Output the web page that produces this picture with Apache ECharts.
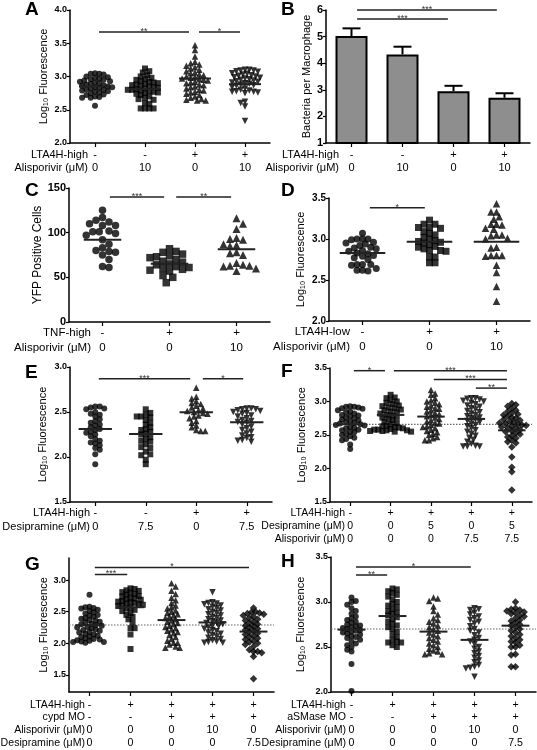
<!DOCTYPE html>
<html><head><meta charset="utf-8">
<script src="https://cdn.jsdelivr.net/npm/echarts@6/dist/echarts.min.js"></script>
<style>html,body{margin:0;padding:0;background:#fff}#c{width:537px;height:750px}</style>
</head><body><div id="c"></div>
<script>
// ---------------- DATA ----------------
// Panel A
const A_lta4h = ['-','-','+','+'];
const A_alis = ['0','10','0','10'];
const A1 = [3.05,3.04,3.04,3.03,3.00,2.99,2.98,2.97,2.96,2.95,2.94,2.93,2.92,2.91,2.90,2.89,2.88,2.87,2.86,2.85,2.84,2.84,2.83,2.82,2.81,2.80,2.79,2.78,2.77,2.76,2.75,2.73,2.72,2.70,2.69,2.68,2.68,2.56];
const A2 = [3.12,3.08,3.06,3.02,3.00,2.98,2.96,2.95,2.93,2.92,2.91,2.90,2.89,2.88,2.87,2.86,2.85,2.84,2.83,2.82,2.81,2.80,2.80,2.79,2.78,2.77,2.76,2.75,2.74,2.72,2.70,2.68,2.66,2.65,2.60,2.59,2.52,2.52,2.52,2.52];
const A3 = [3.47,3.40,3.30,3.22,3.20,3.18,3.16,3.14,3.12,3.10,3.08,3.06,3.05,3.03,3.02,3.00,2.99,2.98,2.97,2.96,2.95,2.94,2.92,2.91,2.90,2.88,2.87,2.85,2.84,2.82,2.80,2.79,2.77,2.76,2.74,2.72,2.70,2.68,2.66,2.65,2.64,2.64];
const A4 = [3.10,3.10,3.09,3.09,3.08,3.07,3.05,3.04,3.03,3.02,3.01,3.00,2.99,2.98,2.97,2.96,2.95,2.94,2.93,2.92,2.91,2.90,2.89,2.88,2.87,2.86,2.84,2.82,2.80,2.79,2.78,2.77,2.77,2.76,2.75,2.62,2.60,2.55,2.33];
const A_means = [2.85,2.81,2.97,2.885];
const A_sig = [[0.08,1.88,3.67,'**'],[2.08,2.9,3.67,'*']];
// Panel B
const B_lta4h = ['-','-','+','+'];
const B_alis = ['0','10','0','10'];
const B_bars = [5.02,4.33,2.95,2.70];
const B_err = [0.29,0.29,0.20,0.17];
const B_sig = [[0.11,2.85,6.0,'***'],[0.11,1.89,5.66,'***']];
// Panel C
const C_tnf = ['-','+','+'];
const C_alis = ['0','0','10'];
const C1 = [125,117,114,112,110,108,108,102,101,101,99,97,92,87,83,80,79,78,75,70,62,61];
const C2 = [82,79,78,76,74,73,72,70,68,67,65,64,62,61,60,59,58,57,52,50,44];
const C3 = [116,110,104,94,93,92,87,86,85,78,77,75,66,64,63,63,62,60,57];
const C_means = [92,65.3,81.4];
const C_sig = [[0.11,0.92,140,'***'],[1.1,1.92,140,'**']];
// Panel D
const D_lta4h = ['-','+','+'];
const D_alis = ['0','0','10'];
const D1 = [3.07,3.00,3.00,3.00,2.99,2.96,2.95,2.94,2.92,2.90,2.89,2.88,2.86,2.85,2.83,2.82,2.80,2.79,2.77,2.75,2.69,2.69,2.68,2.69,2.64,2.62,2.62,2.61];
const D2 = [3.23,3.18,3.18,3.14,3.14,3.13,3.09,3.07,3.05,3.02,3.00,2.98,2.97,2.96,2.95,2.93,2.91,2.90,2.88,2.86,2.86,2.85,2.78,2.78,2.71,2.71];
const D3 = [3.43,3.33,3.33,3.27,3.24,3.18,3.18,3.17,3.13,3.12,3.05,3.05,3.04,3.01,3.00,2.90,2.89,2.80,2.80,2.79,2.80,2.68,2.59,2.42,2.24];
const D_means = [2.83,2.965,2.965];
const D_sig = [[0.11,0.93,3.38,'*']];
// Panel E
const E_lta4h = ['-','-','+','+'];
const E_desi = ['0','7.5','0','7.5'];
const E1 = [2.56,2.56,2.55,2.54,2.53,2.50,2.48,2.47,2.45,2.42,2.40,2.38,2.36,2.35,2.33,2.31,2.30,2.28,2.27,2.25,2.23,2.20,2.18,2.16,2.15,2.13,2.10,2.08,2.03,1.92];
const E2 = [2.53,2.49,2.47,2.45,2.45,2.44,2.41,2.38,2.36,2.33,2.31,2.30,2.28,2.26,2.25,2.22,2.20,2.18,2.17,2.14,2.11,2.10,2.06,2.03,2.02,1.97,1.92];
const E3 = [2.77,2.67,2.65,2.62,2.60,2.59,2.57,2.55,2.54,2.52,2.51,2.50,2.49,2.48,2.46,2.45,2.43,2.40,2.38,2.35,2.33,2.30,2.29,2.29];
const E4 = [2.54,2.54,2.53,2.53,2.52,2.51,2.50,2.49,2.48,2.46,2.45,2.43,2.41,2.40,2.39,2.38,2.36,2.34,2.32,2.30,2.28,2.26,2.24,2.22,2.21,2.19,2.18,2.17];
const E_means = [2.31,2.255,2.497,2.386];
const E_sig = [[0.07,1.88,2.87,'***'],[2.13,2.93,2.87,'*']];
// Panel F
const F_lta4h = ['-','+','+','+','+'];
const F_desi = ['0','0','5','0','5'];
const F_alis = ['0','0','0','7.5','7.5'];
const F1 = [2.93,2.92,2.92,2.91,2.90,2.89,2.87,2.85,2.84,2.82,2.80,2.79,2.78,2.76,2.75,2.73,2.72,2.70,2.69,2.68,2.67,2.66,2.65,2.64,2.62,2.61,2.60,2.58,2.57,2.55,2.54,2.52,2.50,2.48,2.46,2.44,2.42,2.36,2.29];
const F2 = [3.10,3.06,3.05,3.02,3.00,2.98,2.96,2.94,2.93,2.91,2.90,2.88,2.87,2.85,2.84,2.82,2.80,2.79,2.77,2.76,2.74,2.72,2.70,2.68,2.66,2.64,2.63,2.62,2.61,2.60,2.59,2.58,2.58,2.57,2.57,2.56,2.56,2.55,2.55];
const F3 = [3.17,3.12,3.10,3.05,3.02,3.00,2.98,2.96,2.94,2.92,2.90,2.89,2.87,2.85,2.83,2.81,2.80,2.78,2.76,2.74,2.72,2.70,2.68,2.67,2.65,2.63,2.62,2.60,2.58,2.56,2.54,2.52,2.50,2.47,2.45,2.42,2.42];
const F4 = [3.05,3.05,3.04,3.03,3.01,3.00,2.98,2.96,2.94,2.92,2.90,2.88,2.86,2.84,2.82,2.80,2.78,2.76,2.75,2.73,2.71,2.69,2.67,2.65,2.63,2.60,2.57,2.55,2.52,2.49,2.46,2.43,2.40,2.37,2.34,2.33,2.33,2.33];
const F5 = [2.97,2.95,2.93,2.90,2.87,2.85,2.83,2.81,2.80,2.78,2.76,2.75,2.73,2.72,2.70,2.69,2.68,2.67,2.66,2.65,2.64,2.63,2.62,2.61,2.60,2.58,2.56,2.55,2.53,2.51,2.49,2.47,2.45,2.42,2.40,2.38,2.32,2.17,2.02,1.95,1.68];
const F_means = [2.66,2.80,2.775,2.74,2.57];
const F_ref = 2.66;
const F_sig = [[0.09,0.86,3.46,'*'],[1.08,3.88,3.46,'***'],[2.07,3.88,3.33,'***'],[3.11,3.88,3.20,'**']];
// Panel G
const G_lta4h = ['-','+','+','+','+'];
const G_cypd = ['-','-','+','+','+'];
const G_alis = ['0','0','0','10','0'];
const G_desi = ['0','0','0','0','7.5'];
const G1 = [2.77,2.58,2.57,2.56,2.55,2.53,2.51,2.49,2.47,2.45,2.44,2.42,2.40,2.39,2.37,2.36,2.34,2.33,2.31,2.30,2.29,2.28,2.26,2.25,2.24,2.22,2.21,2.20,2.18,2.17,2.15,2.14,2.12,2.11,2.10,2.08,2.07,2.06,2.05,2.04,2.03,2.02,2.02,2.01];
const G2 = [2.87,2.86,2.84,2.83,2.81,2.80,2.78,2.77,2.75,2.74,2.72,2.71,2.70,2.69,2.67,2.66,2.65,2.64,2.63,2.62,2.61,2.60,2.59,2.57,2.55,2.53,2.51,2.48,2.45,2.42,2.38,2.33,2.24,2.24,2.14,1.91];
const G3 = [2.95,2.90,2.83,2.78,2.72,2.68,2.64,2.60,2.57,2.55,2.52,2.50,2.48,2.46,2.44,2.42,2.40,2.38,2.36,2.34,2.32,2.30,2.28,2.26,2.24,2.22,2.20,2.18,2.16,2.13,2.10,2.07,2.04,2.01,2.01,1.98,1.95,1.93,1.93];
const G4 = [2.81,2.65,2.64,2.63,2.62,2.60,2.58,2.56,2.54,2.52,2.50,2.48,2.46,2.44,2.42,2.40,2.38,2.36,2.35,2.33,2.32,2.30,2.28,2.27,2.25,2.23,2.21,2.19,2.17,2.15,2.13,2.11,2.09,2.07,2.05,2.03,2.02,2.01,2.01];
const G5 = [2.56,2.50,2.49,2.48,2.47,2.46,2.44,2.42,2.40,2.38,2.36,2.34,2.32,2.30,2.28,2.27,2.25,2.23,2.21,2.20,2.18,2.16,2.14,2.12,2.10,2.08,2.06,2.04,2.02,2.00,1.98,1.95,1.90,1.87,1.87,1.85,1.79,1.44];
const G_means = [2.287,2.571,2.368,2.33,2.186];
const G_ref = 2.29;
const G_ticks = [1.5,2.0,2.5,3.0];
const G_sig = [[0.13,3.89,3.2,'*'],[0.13,0.92,3.09,'***']];
// Panel H
const H_lta4h = ['-','+','+','+','+'];
const H_asm = ['-','-','+','+','+'];
const H_alis = ['0','0','0','10','0'];
const H_desi = ['0','0','0','0','7.5'];
const H1 = [3.05,3.01,3.00,2.97,2.93,2.90,2.87,2.84,2.82,2.80,2.78,2.77,2.75,2.74,2.73,2.72,2.71,2.70,2.69,2.68,2.67,2.66,2.65,2.64,2.62,2.61,2.60,2.58,2.56,2.54,2.52,2.50,2.47,2.45,2.31,2.01];
const H2 = [3.15,3.14,3.12,3.10,3.08,3.06,3.03,3.00,2.98,2.96,2.94,2.92,2.90,2.88,2.87,2.85,2.83,2.81,2.78,2.76,2.74,2.72,2.70,2.67,2.64,2.61,2.58,2.56,2.55,2.55,2.52,2.50];
const H3 = [3.05,3.04,3.01,2.95,2.90,2.86,2.82,2.80,2.78,2.76,2.74,2.72,2.70,2.68,2.66,2.64,2.62,2.60,2.58,2.56,2.54,2.52,2.50,2.48,2.46,2.45,2.43,2.42,2.42];
const H4 = [2.93,2.92,2.91,2.88,2.86,2.84,2.82,2.80,2.78,2.76,2.73,2.70,2.68,2.66,2.63,2.60,2.58,2.56,2.53,2.50,2.48,2.45,2.43,2.40,2.38,2.35,2.33,2.30,2.28,2.27,2.26,2.17];
const H5 = [3.00,2.93,2.92,2.91,2.90,2.89,2.88,2.87,2.85,2.84,2.82,2.80,2.79,2.77,2.75,2.74,2.72,2.70,2.68,2.66,2.64,2.62,2.60,2.58,2.56,2.55,2.52,2.50,2.50,2.42,2.41,2.28,2.28];
const H_means = [2.693,2.844,2.671,2.579,2.737];
const H_ref = 2.70;
const H_sig = [[0.11,2.91,3.39,'*'],[0.11,0.87,3.30,'**']];

// ---------------- LAYOUT ----------------
const FONT = "'Liberation Sans', Arial, Helvetica, sans-serif";
const LOG = 'Log\u2081\u2080 Fluorescence';
const panels = [
 {letter:'A', lp:[25,10], grid:{left:70,top:10,width:200,height:133}, y:{min:2,max:4,interval:0.5,dec:1,fs:9}, yname:LOG, nameGap:21,
  rows:[['LTA4H-high',A_lta4h],['Alisporivir (\u03bcM)',A_alis]], rowX:88, margin:5.5, lh:13, catFs:11,
  groups:[A1,A2,A3,A4], syms:['circle','rect','triangle','inv'], size:6, coll:4.3, means:A_means, meanW:0.32, sig:A_sig},
 {letter:'B', lp:[281,10], grid:{left:326,top:10,width:204,height:133}, y:{min:1,max:6,interval:1,dec:0,fs:11}, yname:'Bacteria per Macrophage', nameGap:14,
  rows:[['LTA4H-high',B_lta4h],['Alisporivir (\u03bcM)',B_alis]], rowX:339, margin:5.5, lh:13, catFs:11,
  bars:B_bars, err:B_err, sig:B_sig},
 {letter:'C', lp:[25,191], grid:{left:69,top:188,width:201,height:134}, y:{min:0,max:150,interval:50,dec:0,fs:11}, yname:'YFP Positive Cells', nameGap:21, nameFs:12,
  rows:[['TNF-high',C_tnf],['Alisporivir (\u03bcM)',C_alis]], rowX:91, margin:4, lh:14.5, catFs:11.5,
  groups:[C1,C2,C3], syms:['circle','rect','triangle'], size:7.5, coll:6.5, means:C_means, meanW:0.28, sig:C_sig},
 {letter:'D', lp:[281,191], grid:{left:329,top:198,width:201,height:123}, y:{min:2,max:3.5,interval:0.5,dec:1,fs:10}, yname:LOG, nameGap:23,
  rows:[['LTA4H-low',D_lta4h],['Alisporivir (\u03bcM)',D_alis]], rowX:350, margin:4, lh:14.5, catFs:11.5,
  groups:[D1,D2,D3], syms:['circle','rect','triangle'], size:7, coll:5.5, means:D_means, meanW:0.34, sig:D_sig},
 {letter:'E', lp:[25,373], grid:{left:70,top:367,width:202,height:135}, y:{min:1.5,max:3.0,interval:0.5,dec:1,fs:9}, yname:LOG, nameGap:22,
  rows:[['LTA4H-high',E_lta4h],['Desipramine (\u03bcM)',E_desi]], rowX:90, margin:4, lh:14, catFs:11,
  groups:[E1,E2,E3,E4], syms:['circle','rect','triangle','inv'], size:6, coll:4.5, means:E_means, meanW:0.33, sig:E_sig},
 {letter:'F', lp:[281,372], grid:{left:330,top:368,width:202,height:134}, y:{min:1.5,max:3.5,interval:0.5,dec:1,fs:9}, yname:LOG, nameGap:23,
  rows:[['LTA4H-high',F_lta4h],['Desipramine (\u03bcM)',F_desi],['Alisporivir (\u03bcM)',F_alis]], rowX:345, margin:4.5, lh:13, catFs:10.5,
  groups:[F1,F2,F3,F4,F5], syms:['circle','rect','triangle','inv','diamond'], size:6, coll:4.1, means:F_means, meanW:0.34, ref:F_ref, sig:F_sig},
 {letter:'G', lp:[25,565], grid:{left:69,top:558,width:205,height:134}, y:{min:1.23,max:3.35,custom:G_ticks,dec:1,fs:9}, yname:LOG, nameGap:20,
  rows:[['LTA4H-high',G_lta4h],['cypd MO',G_cypd],['Alisporivir (\u03bcM)',G_alis],['Desipramine (\u03bcM)',G_desi]], rowX:85, margin:6.5, lh:12.7, catFs:10.6,
  groups:[G1,G2,G3,G4,G5], syms:['circle','rect','triangle','inv','diamond'], size:6, coll:4.1, means:G_means, meanW:0.34, ref:G_ref, sig:G_sig},
 {letter:'H', lp:[281,562], grid:{left:331,top:557,width:205,height:135}, y:{min:2.0,max:3.5,interval:0.5,dec:1,fs:9}, yname:LOG, nameGap:25,
  rows:[['LTA4H-high',H_lta4h],['aSMase MO',H_asm],['Alisporivir (\u03bcM)',H_alis],['Desipramine (\u03bcM)',H_desi]], rowX:346, margin:6.5, lh:12.7, catFs:10.6,
  groups:[H1,H2,H3,H4,H5], syms:['circle','rect','triangle','inv','diamond'], size:6, coll:4.3, means:H_means, meanW:0.34, ref:H_ref, sig:H_sig}
];

// beeswarm layout (deterministic, collision-based)
function swarm(vals, gi, p, n) {
  const band = p.grid.width / n;
  const d = p.coll, step = d * 0.5;
  const placed = [], out = [];
  const sorted = vals.slice().sort((a, b) => b - a);
  sorted.forEach((v, j) => {
    const py = p.grid.top + (p.y.max - v) / (p.y.max - p.y.min) * p.grid.height;
    let off = 0;
    for (let k = 0; k < 80; k++) {
      const c = k === 0 ? [0] : (j % 2 ? [k * step, -k * step] : [-k * step, k * step]);
      let f = null;
      for (const x of c) {
        if (placed.every(q => (q.x - x) * (q.x - x) + (q.y - py) * (q.y - py) >= d * d)) { f = x; break; }
      }
      if (f !== null) { off = f; break; }
    }
    placed.push({x: off, y: py});
    out.push([gi + off / band, v]);
  });
  return out;
}

const grids = [], xAxes = [], yAxes = [], series = [], graphics = [];
panels.forEach((p, pi) => {
  const n = p.rows[0][1].length;
  grids.push({left: p.grid.left, top: p.grid.top, width: p.grid.width, height: p.grid.height});
  const cats = p.rows[0][1].map((_, i) => p.rows.map(r => r[1][i]).join('\n'));
  xAxes.push({type: 'category', gridIndex: pi, data: cats, boundaryGap: true, position: 'bottom',
    axisLine: {show: true, onZero: false, lineStyle: {color: '#000', width: 1.5}},
    axisTick: {show: true, alignWithLabel: true, length: 4, lineStyle: {color: '#000', width: 1.2}},
    axisLabel: {color: '#000', fontSize: p.catFs, fontFamily: FONT, lineHeight: p.lh, margin: p.margin, interval: 0},
    splitLine: {show: false}});
  xAxes.push({type: 'value', gridIndex: pi, min: -0.5, max: n - 0.5, show: false, axisLine: {onZero: false}});
  const ya = {type: 'value', gridIndex: pi, min: p.y.min, max: p.y.max, position: 'left',
    splitLine: {show: false},
    axisLine: {show: true, onZero: false, lineStyle: {color: '#000', width: 1.5}},
    axisTick: {show: true, length: 3, lineStyle: {color: '#000', width: 1.2}},
    axisLabel: {color: '#000', fontSize: p.y.fs, fontWeight: 'bold', fontFamily: FONT, margin: 3,
      formatter: v => Number(v).toFixed(p.y.dec)},
    name: p.yname, nameLocation: 'middle', nameGap: p.nameGap,
    nameTextStyle: {color: '#000', fontSize: p.nameFs || 11, fontFamily: FONT}};
  if (p.y.custom) {
    ya.axisLabel.customValues = p.y.custom;
    ya.axisTick.customValues = p.y.custom;
  } else {
    ya.interval = p.y.interval;
  }
  yAxes.push(ya);
  const xc = 2 * pi, xv = 2 * pi + 1;

  if (p.bars) {
    series.push({type: 'bar', xAxisIndex: xc, yAxisIndex: pi, data: p.bars, barWidth: 32, silent: true,
      itemStyle: {color: '#8e8e8e', borderColor: '#000', borderWidth: 2}});
    const errs = p.err;
    series.push({type: 'custom', xAxisIndex: xc, yAxisIndex: pi, silent: true, z: 5,
      data: p.bars.map((v, i) => [i, v, v + errs[i]]),
      renderItem: (params, api) => {
        const a = api.coord([api.value(0), api.value(1)]);
        const b = api.coord([api.value(0), api.value(2)]);
        return {type: 'group', children: [
          {type: 'line', shape: {x1: a[0], y1: a[1], x2: b[0], y2: b[1]}, style: {stroke: '#000', lineWidth: 2}},
          {type: 'line', shape: {x1: b[0] - 9, y1: b[1], x2: b[0] + 9, y2: b[1]}, style: {stroke: '#000', lineWidth: 2}}]};
      }});
  }
  if (p.groups) {
    p.groups.forEach((vals, gi) => {
      const s = p.syms[gi];
      series.push({type: 'scatter', xAxisIndex: xv, yAxisIndex: pi, silent: true, z: 3,
        data: swarm(vals, gi, p, n),
        symbol: s === 'inv' ? 'triangle' : s, symbolRotate: s === 'inv' ? 180 : 0,
        symbolSize: s === 'diamond' ? p.size + 1.5 : (s === 'triangle' || s === 'inv' ? p.size + 0.5 : p.size),
        itemStyle: {color: '#000'}});
    });
    const w = p.meanW;
    series.push({type: 'custom', xAxisIndex: xv, yAxisIndex: pi, silent: true, z: 6,
      data: p.means.map((m, i) => [i, m]),
      renderItem: (params, api) => {
        const a = api.coord([api.value(0) - w, api.value(1)]);
        const b = api.coord([api.value(0) + w, api.value(1)]);
        return {type: 'line', shape: {x1: a[0], y1: a[1], x2: b[0], y2: b[1]}, style: {stroke: '#222', lineWidth: 2}};
      }});
  }
  if (p.ref !== undefined) {
    series.push({type: 'custom', xAxisIndex: xv, yAxisIndex: pi, silent: true, z: 2,
      data: [[0, p.ref]],
      renderItem: (params, api) => {
        const a = api.coord([-0.5, api.value(1)]);
        const b = api.coord([n - 0.5, api.value(1)]);
        return {type: 'line', shape: {x1: a[0], y1: a[1], x2: b[0], y2: b[1]}, style: {stroke: '#666', lineWidth: 1.2, lineDash: [1.5, 1.5]}};
      }});
  }
  const sig = p.sig;
  series.push({type: 'custom', xAxisIndex: xv, yAxisIndex: pi, silent: true, z: 6, clip: false,
    data: sig.map(s => [s[0], s[2], s[1]]),
    renderItem: (params, api) => {
      const a = api.coord([api.value(0), api.value(1)]);
      const b = api.coord([api.value(2), api.value(1)]);
      return {type: 'group', children: [
        {type: 'line', shape: {x1: a[0], y1: a[1], x2: b[0], y2: b[1]}, style: {stroke: '#222', lineWidth: 1.5}},
        {type: 'text', x: (a[0] + b[0]) / 2, y: a[1] + 4, style: {text: sig[params.dataIndex][3], fill: '#333', font: '9px ' + FONT, align: 'center', verticalAlign: 'bottom'}}]};
    }});

  // panel letter
  graphics.push({type: 'text', x: p.lp[0], y: p.lp[1], style: {text: p.letter, fill: '#000', font: 'bold 19px ' + FONT, align: 'left', verticalAlign: 'middle'}});
  // row labels
  const bottom = p.grid.top + p.grid.height;
  p.rows.forEach((r, k) => {
    graphics.push({type: 'text', x: p.rowX, y: bottom + p.margin + p.lh / 2 + k * p.lh,
      style: {text: r[0], fill: '#000', font: p.catFs + 'px ' + FONT, align: 'right', verticalAlign: 'middle'}});
  });
});

const chart = echarts.init(document.getElementById('c'), null, {renderer: 'canvas'});
chart.setOption({animation: false, backgroundColor: '#fff', grid: grids, xAxis: xAxes, yAxis: yAxes, series: series, graphic: graphics});
</script>
</body></html>
